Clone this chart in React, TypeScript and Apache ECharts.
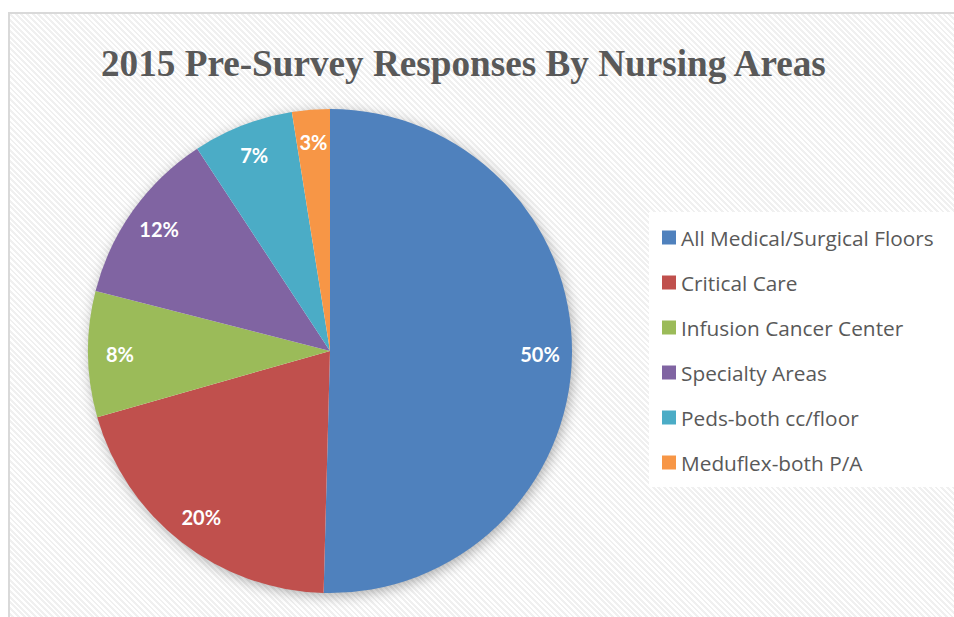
import React, { useEffect, useRef } from "react";
import * as echarts from "echarts";

const titleText = "2015 Pre-Survey Responses By Nursing Areas";
const categories = [
  "All Medical/Surgical Floors",
  "Critical Care",
  "Infusion Cancer Center",
  "Specialty Areas",
  "Peds-both cc/floor",
  "Meduflex-both P/A",
];
const responses = [60, 24, 10, 14, 8, 3];
const sliceColors = ["#4F81BD", "#C0504D", "#9BBB59", "#8064A2", "#4BACC6", "#F79646"];

const CX = 330;
const CY = 351;
const R = 242;

export default function App() {
  const ref = useRef<HTMLDivElement>(null);
  useEffect(() => {
    if (!ref.current) return;
    const chart = echarts.init(ref.current, undefined, { renderer: "svg" });
    const data = categories.map((name, i) => ({
      name,
      value: responses[i],
      itemStyle: { color: sliceColors[i] },
    }));
    chart.setOption({
      animation: false,
      backgroundColor: "transparent",
      title: {
        text: titleText,
        left: 96,
        top: 40,
        textStyle: {
          fontFamily: "Liberation Serif",
          fontWeight: "bold",
          fontSize: 37.2,
          color: "#595959",
        },
      },
      legend: {
        data: categories,
        orient: "vertical",
        left: 649,
        top: 212,
        icon: "rect",
        itemWidth: 14,
        itemHeight: 14,
        itemGap: 24,
        padding: [15, 40, 14, 13],
        backgroundColor: "#ffffff",
        textStyle: { fontFamily: "Open Sans", fontSize: 20.8, lineHeight: 20, color: "#595959" },
        selectedMode: false,
      },
      graphic: [
        {
          type: "circle",
          shape: { cx: CX, cy: CY, r: R - 1 },
          z: 0,
          silent: true,
          style: {
            fill: "#ffffff",
            shadowBlur: 14,
            shadowColor: "rgba(0,0,0,0.35)",
            shadowOffsetX: 2,
            shadowOffsetY: 3,
          },
        },
      ],
      series: [
        {
          type: "pie",
          center: [CX, CY],
          radius: [0, R],
          startAngle: 90,
          clockwise: true,
          z: 2,
          silent: true,
          label: { show: false },
          labelLine: { show: false },
          itemStyle: { borderWidth: 0 },
          data,
        },
        {
          type: "pie",
          center: [CX, CY],
          radius: [R - 70, R],
          startAngle: 90,
          clockwise: true,
          z: 3,
          silent: true,
          itemStyle: { color: "transparent" },
          label: {
            show: true,
            position: "inside",
            color: "#ffffff",
            fontFamily: "Lato",
            fontWeight: "bold",
            fontSize: 20,
            formatter: (p: any) => Math.round(p.percent) + "%",
          },
          labelLine: { show: false },
          data: categories.map((name, i) => ({ name, value: responses[i], itemStyle: { color: "transparent" } })),
        },
      ],
    });
    return () => chart.dispose();
  }, []);

  return (
    <div style={{ position: "fixed", left: 0, top: 0, width: 954, height: 617, overflow: "hidden", background: "#ffffff" }}>
      <div
        style={{
          position: "absolute",
          left: 8,
          top: 12,
          width: 1000,
          height: 700,
          border: "2px solid #d9d9d9",
          background:
            "repeating-linear-gradient(45deg, #ffffff 0px, #ffffff 2px, #f0f0f0 2px, #f0f0f0 4px)",
        }}
      />
      <div ref={ref} style={{ position: "absolute", left: 0, top: 0, width: 954, height: 617 }} />
    </div>
  );
}
